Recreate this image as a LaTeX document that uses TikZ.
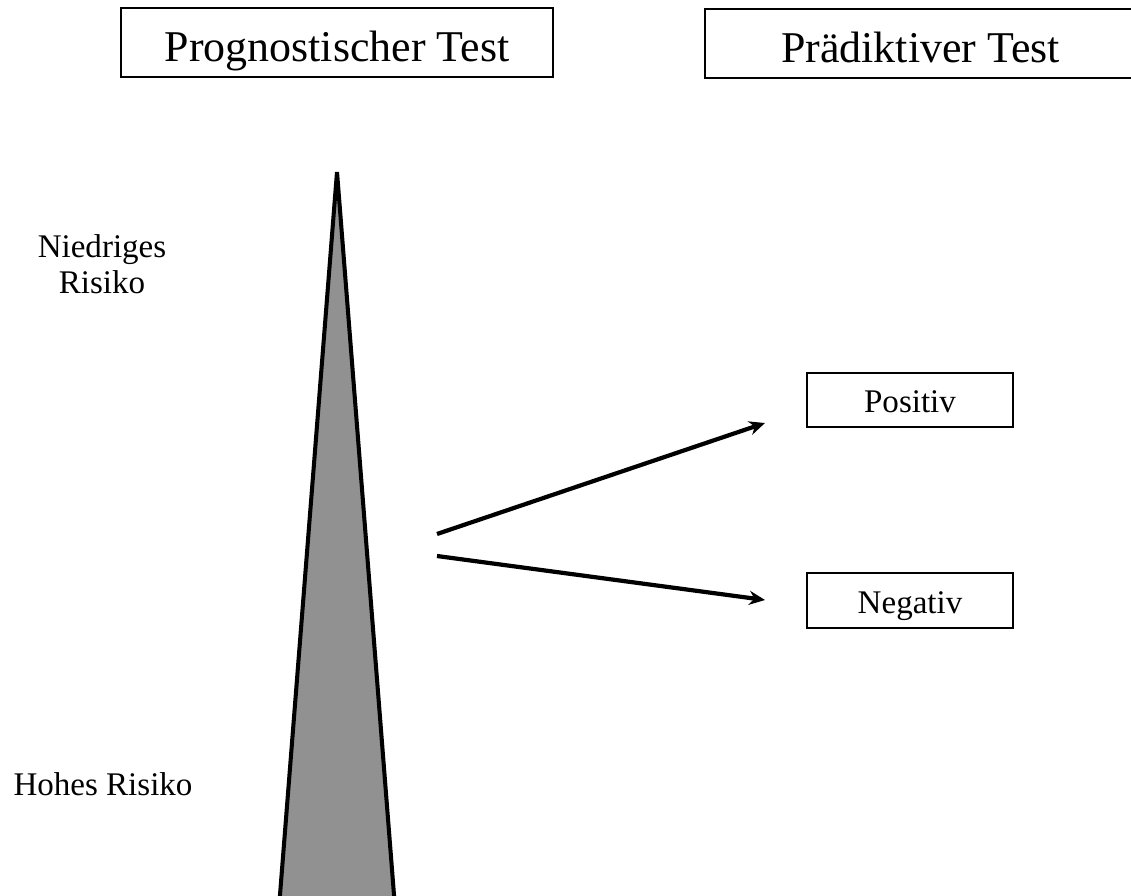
\documentclass[tikz,border=0pt]{standalone}
\usepackage{fontspec}
\setmainfont{Liberation Serif}
\usetikzlibrary{arrows.meta}

\definecolor{wedgegray}{RGB}{145,145,145}

\tikzset{
	titlebox/.style={draw, line width=1.1pt, inner sep=0pt, minimum height=1.38cm,
		font=\fontsize{25}{30}\selectfont, text height=22pt, text depth=0pt},
	resultbox/.style={draw, line width=1.1pt, inner sep=0pt, minimum width=4.12cm, minimum height=1.09cm,
		font=\fontsize{18.8}{20.5}\selectfont, text height=14.5pt, text depth=0pt},
	risklabel/.style={align=center, font=\fontsize{18.8}{20.5}\selectfont},
	branch/.style={line width=2.4pt, -{Stealth[length=9pt,width=8pt]}}
}

\begin{document}
\begin{tikzpicture}[x=0.02cm, y=-0.02cm]
		\useasboundingbox (0,0) rectangle (1131,895);
		%%
		\node[titlebox, minimum width=8.64cm] (prog) at (337,42.5) {Prognostischer Test};
		\node[titlebox, minimum width=8.64cm] (pred) at (920.5,43.5) {Prädiktiver Test};
		%%
		\draw[line width=2.3pt, fill=wedgegray] (279.2,905) -- (337,172) -- (394.8,905) -- cycle;
		\node[risklabel] (low) at (102,264) {Niedriges\\Risiko};
		\node[risklabel] (high) at (103,784) {Hohes Risiko};
		%%
		\node[resultbox] (pos) at (910,400) {Positiv};
		\node[resultbox] (neg) at (910,600.5) {Negativ};
		%%
		\coordinate (uptail) at (437,534);
		\coordinate (uphead) at (765,423);
		\coordinate (lowtail) at (437,556);
		\coordinate (lowhead) at (765,600);
		\draw[branch] (uptail) -- (uphead);
		\draw[branch] (lowtail) -- (lowhead);
	\end{tikzpicture}
\end{document}
